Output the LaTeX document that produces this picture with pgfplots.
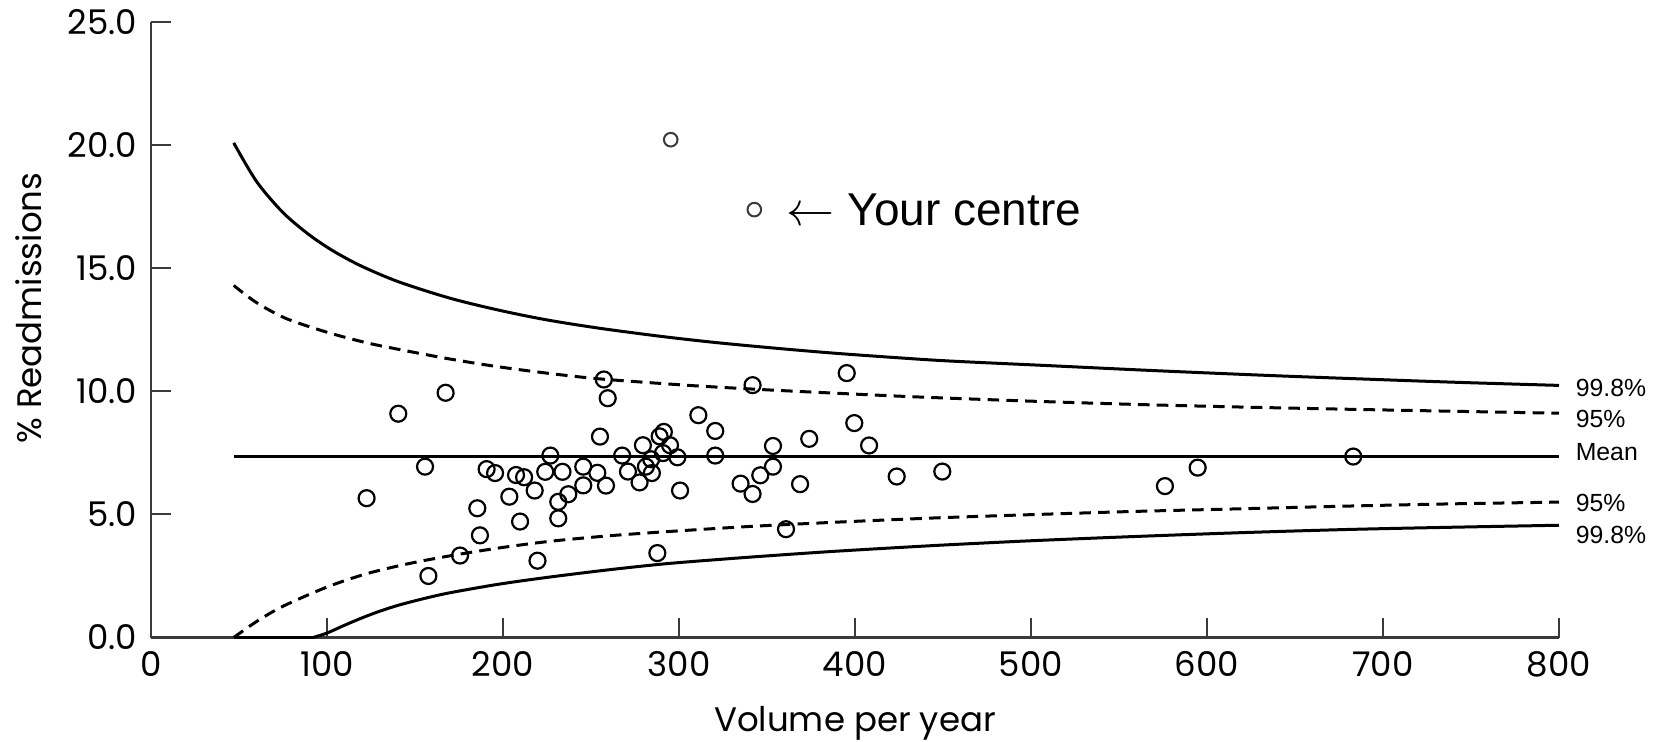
\documentclass[border=0pt]{standalone}
\usepackage{pgfplots}
\pgfplotsset{compat=1.18}
\usepackage{fontspec}
\setmainfont{Liberation Sans}
\newfontfamily\pop{Poppins}
\definecolor{axisgrey}{HTML}{3A3A3A}

\begin{document}
\begin{tikzpicture}
% 1 px of the reference = 0.25pt
\path[use as bounding box] (-37.75pt,-25.875pt) rectangle (378.5pt,159.375pt);
\begin{axis}[
  at={(0,0)}, anchor=south west,
  scale only axis, width=352pt, height=153.875pt,
  xmin=0, xmax=800, ymin=0, ymax=25,
  enlargelimits=false, clip=false,
  axis lines=left,
  axis line style={-, draw=axisgrey, line width=0.6pt},
  tick align=inside, major tick length=5pt,
  tick style={draw=axisgrey, line width=0.5pt},
  xtick={0,100,...,800}, ytick={0,5,...,25},
  /pgf/number format/assume math mode=true,
  ticklabel style={font=\pop\fontsize{8.5}{10}\selectfont},
  yticklabel style={/pgf/number format/.cd, fixed, fixed zerofill, precision=1},
  xlabel={Volume per year},
  ylabel={\% Readmissions},
  label style={font=\pop\fontsize{8.5}{10}\selectfont},
  xlabel style={at={(rel axis cs:0.5,0)}, anchor=north, inner sep=0pt, yshift=-17pt},
  ylabel style={at={(rel axis cs:0,0.535)}, anchor=center, inner sep=0pt, rotate=0, yshift=30.5pt},
]
% 99.8% limits
\addplot[black, line width=0.75pt, smooth] coordinates {
(47,20.09)(60,18.52)(75,17.26)(90,16.35)(104,15.68)(120,15.07)(141,14.44)(170,13.78)
(198,13.29)(225,12.90)(255,12.56)(290,12.23)(321,11.98)(355,11.75)(388,11.55)(425,11.36)
(454,11.23)(511,11.04)(558,10.88)(596,10.76)(640,10.63)(681,10.52)(740,10.37)(800,10.24)};
\addplot[black, line width=0.75pt] coordinates {(47,0)(92,0)};
\addplot[black, line width=0.75pt, smooth] coordinates {
(92,0)(100,0.18)(110,0.5)(120,0.8)(130,1.07)(141,1.32)(155,1.58)(170,1.82)(198,2.17)
(227,2.46)(260,2.75)(293,3.0)(330,3.21)(357,3.35)(388,3.50)(426,3.66)(454,3.77)
(500,3.93)(558,4.10)(620,4.26)(681,4.39)(740,4.48)(800,4.56)};
% 95% limits
\addplot[black, line width=0.75pt, dash pattern=on 2.9pt off 1.8pt, smooth] coordinates {
(47,14.3)(60,13.6)(77,12.95)(100,12.4)(122,11.98)(141,11.7)(170,11.31)(198,10.99)
(227,10.72)(251,10.53)(274,10.40)(310,10.22)(350,10.06)(390,9.92)(426,9.80)(454,9.72)
(500,9.60)(558,9.47)(620,9.36)(681,9.27)(740,9.19)(800,9.11)};
\addplot[black, line width=0.75pt, dash pattern=on 2.9pt off 1.8pt, smooth] coordinates {
(47,0)(60,0.65)(75,1.27)(100,2.05)(122,2.58)(145,2.98)(170,3.32)(198,3.64)(227,3.91)
(260,4.13)(293,4.30)(340,4.51)(388,4.68)(426,4.80)(454,4.88)(500,4.99)(558,5.12)
(620,5.23)(681,5.34)(740,5.43)(800,5.50)};
% mean
\addplot[black, line width=0.65pt] coordinates {(47,7.35)(800,7.35)};
% centres
\addplot[only marks, mark=o, mark size=2pt, mark options={black, line width=0.55pt}] coordinates {
(122.5,5.66)(140.5,9.09)(167.4,9.94)(155.7,6.94)(157.6,2.50)(175.6,3.33)(185.4,5.25)
(186.9,4.15)(190.7,6.84)(195.5,6.68)(203.6,5.72)(207.4,6.60)(212.0,6.51)(209.7,4.71)
(218.0,5.97)(219.6,3.12)(224.0,6.73)(226.9,7.39)(233.8,6.73)(231.4,5.51)(231.4,4.84)
(237.1,5.82)(245.6,6.94)(245.6,6.18)(253.6,6.69)(255.1,8.16)(257.3,10.48)(259.5,9.72)
(258.5,6.17)(267.7,7.39)(271.0,6.74)(277.6,6.30)(279.5,7.81)(281.2,6.94)(284.2,7.24)
(284.6,6.68)(287.7,3.43)(289.0,8.17)(291.4,8.35)(290.9,7.49)(294.9,7.81)(299.1,7.32)
(300.6,5.97)(311.0,9.03)(320.6,8.39)(320.6,7.39)(335.0,6.25)(341.8,10.25)(341.8,5.83)
(346.2,6.59)(353.4,7.78)(353.4,6.94)(360.8,4.40)(368.8,6.23)(374.0,8.07)(395.3,10.74)
(399.6,8.71)(408.0,7.80)(423.7,6.54)(449.6,6.74)(576.1,6.15)(594.7,6.90)(683.1,7.35)};
\addplot[only marks, mark=o, mark size=1.7pt, mark options={axisgrey, line width=0.5pt}] coordinates {
(295.3,20.22)(342.8,17.38)};
\node[anchor=west, inner sep=0pt, font=\fontsize{11.5}{13}\selectfont] at (axis cs:360.8,17.38) {$\leftarrow$ Your centre};
\begin{scope}[every node/.style={anchor=west, inner sep=0pt, xshift=4pt, font=\fontsize{6.2}{7}\selectfont}]
\node at (axis cs:800,10.13) {99.8\%};
\node at (axis cs:800,8.87) {95\%};
\node at (axis cs:800,7.55) {Mean};
\node at (axis cs:800,5.45) {95\%};
\node at (axis cs:800,4.17) {99.8\%};
\end{scope}
\end{axis}
\end{tikzpicture}
\end{document}
